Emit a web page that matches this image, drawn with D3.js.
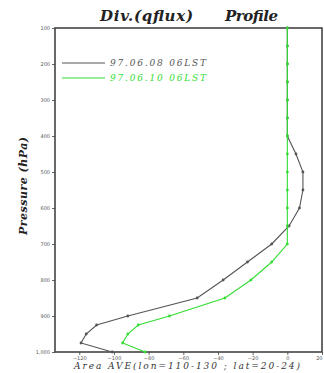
<!DOCTYPE html>
<html>
<head>
<meta charset="utf-8">
<script src="https://cdn.jsdelivr.net/npm/d3@7"></script>
<style>
  body { margin: 0; background: #fff; }
  svg { display: block; }
</style>
</head>
<body>
<div id="chart"></div>
<script>
// Data
const levels = [1000, 975, 950, 925, 900, 850, 800, 750, 700, 650, 600, 550, 500, 450, 400, 350, 300, 250, 200, 150, 100];
const divJun08 = [-101, -119, -116, -110, -92, -52, -37, -23, -9, 1, 7, 9, 9, 5, 0, 0, 0, 0, 0, 0, 0];
const divJun10 = [-82, -95, -92, -86, -68, -36, -21, -9, 0, 0, 0, 0, 0, 0, 0, 0, 0, 0, 0, 0, 0];
const seriesNames = ["97.06.08 06LST", "97.06.10 06LST"];
const seriesColors = ["#555555", "#33dd33"];
const xTicks = [-120, -100, -80, -60, -40, -20, 0, 20];
const yTicks = [100, 200, 300, 400, 500, 600, 700, 800, 900, 1000];

//Define chart dimensions
const width = 324;
const height = 373;
const margin = { top: 28, right: 2, bottom: 21, left: 55 };

const svg = d3.select('#chart')
  .append('svg')
  .attr('width', width)
  .attr('height', height);

//Scales
const xScale = d3.scaleLinear()
  .domain([-134, 20])
  .range([margin.left, width - margin.right]);
const yScale = d3.scaleLinear()
  .domain([100, 1000])
  .range([margin.top, height - margin.bottom]);

//Title
const titleFont = t => t
  .style('font-family', '"DejaVu Serif", serif')
  .style('font-style', 'italic').style('font-weight', 'bold')
  .attr('fill', '#222');
svg.append('text')
  .attr('x', 100).attr('y', 21)
  .attr('textLength', 93)
  .style('font-size', '15px')
  .call(titleFont)
  .text('Div.(qflux)');
svg.append('text')
  .attr('x', 225).attr('y', 21)
  .attr('textLength', 53)
  .style('font-size', '15px')
  .call(titleFont)
  .text('Profile');

//Axes
const xAxis = svg.append('g')
  .attr('transform', `translate(0, ${height - margin.bottom})`)
  .call(d3.axisBottom(xScale).tickValues(xTicks).tickSize(3).tickPadding(1));
const yAxis = svg.append('g')
  .attr('transform', `translate(${margin.left}, 0)`)
  .call(d3.axisLeft(yScale).tickValues(yTicks).tickSize(3).tickPadding(2));
[xAxis, yAxis].forEach(a => {
  a.select('.domain').remove();
  a.selectAll('line').attr('stroke', '#666');
  a.selectAll('text')
    .style('font-family', '"DejaVu Sans", sans-serif')
    .style('font-size', '5px')
    .attr('fill', '#555');
});
//Keep the last x label inside the picture
xAxis.selectAll('.tick text').filter(d => d === 20).attr('text-anchor', 'end');

//Frame
svg.append('rect')
  .attr('x', margin.left).attr('y', margin.top)
  .attr('width', width - margin.left - margin.right)
  .attr('height', height - margin.top - margin.bottom)
  .attr('fill', 'none')
  .attr('stroke', '#444')
  .attr('stroke-width', 1.6);

//Y-Axis label
svg.append('text')
  .attr('transform', `translate(27, 186) rotate(-90)`)
  .attr('text-anchor', 'middle')
  .attr('textLength', 98)
  .style('font-size', '11px')
  .call(titleFont)
  .text('Pressure (hPa)');

//Bottom caption
svg.append('text')
  .attr('x', 74).attr('y', 369)
  .attr('textLength', 226)
  .style('font-family', '"DejaVu Serif", serif')
  .style('font-style', 'italic')
  .style('font-size', '9px').attr('fill', '#333')
  .text('Area AVE(lon=110-130 ; lat=20-24)');

//Line generator
const line = d3.line()
  .x(d => xScale(d[1]))
  .y(d => yScale(d[0]));

[divJun08, divJun10].forEach((vals, i) => {
  const pts = levels.map((p, j) => [p, vals[j]]);
  svg.append('path')
    .datum(pts)
    .attr('fill', 'none')
    .attr('stroke', seriesColors[i])
    .attr('stroke-width', 1.1)
    .attr('d', line);
  svg.selectAll(`.dot${i}`)
    .data(pts)
    .join('circle')
    .attr('class', `dot${i}`)
    .attr('cx', d => xScale(d[1]))
    .attr('cy', d => yScale(d[0]))
    .attr('r', 1.4)
    .attr('fill', seriesColors[i]);
});

//Legend
seriesNames.forEach((name, i) => {
  const ly = 63 + i * 15;
  svg.append('line')
    .attr('x1', 62).attr('x2', 105)
    .attr('y1', ly).attr('y2', ly)
    .attr('stroke', seriesColors[i])
    .attr('stroke-width', 1.2);
  svg.append('text')
    .attr('x', 110).attr('y', ly + 3)
    .attr('textLength', 96)
    .style('font-family', '"DejaVu Serif", serif')
    .style('font-style', 'italic')
    .style('font-size', '9px')
    .attr('fill', seriesColors[i])
    .text(name);
});
</script>
</body>
</html>
